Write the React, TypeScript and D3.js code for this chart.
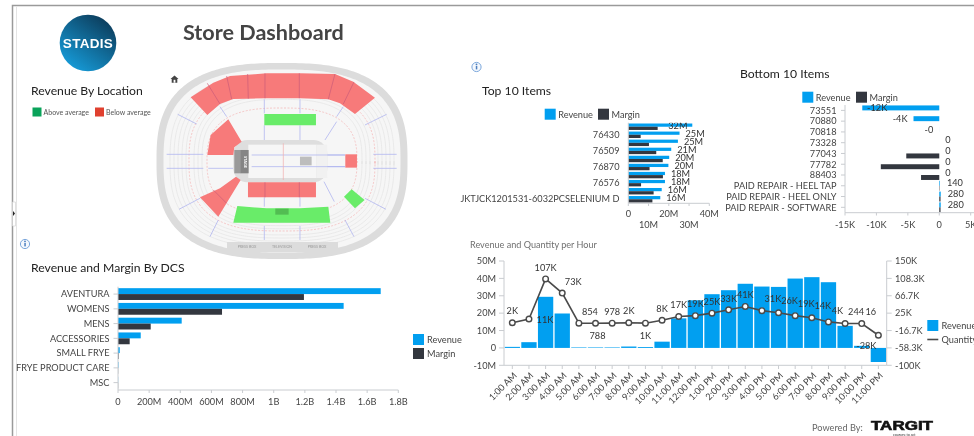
import React from "react";
import * as d3 from "d3";

const FONT = "Lato, 'Open Sans', sans-serif";
const BLUE = "#019FF0";
const DARK = "#33373F";
const AXIS = "#c9ccd0";
const TXT = "#444444";
const FS = 9.2;
const TITLE = 12.2;

// ---------- Revenue and Margin By DCS
const dcsCategories = ["AVENTURA", "WOMENS", "MENS", "ACCESSORIES", "SMALL FRYE", "FRYE PRODUCT CARE", "MSC"];
const dcsRevenue = [1687e6, 1449e6, 409e6, 146e6, 11e6, 3e6, 1e6];
const dcsMargin = [1194e6, 668e6, 210e6, 75e6, 4e6, 1e6, 1e6];
const dcsTicks = [0, 2e8, 4e8, 6e8, 8e8, 1e9, 1.2e9, 1.4e9, 1.6e9, 1.8e9];
const dcsTickLabels = ["0", "200M", "400M", "600M", "800M", "1B", "1.2B", "1.4B", "1.6B", "1.8B"];

// ---------- Top 10
const topCategories = ["76441", "76430", "76432", "76509", "76511", "76870", "76872", "76576", "76578", "JKTJCK1201531-6032PCSELENIUM D"];
const topShown = ["", "76430", "", "76509", "", "76870", "", "76576", "", "JKTJCK1201531-6032PCSELENIUM D"];
const topRevenue = [31.6, 25.3, 24.5, 21.2, 20.2, 19.8, 18.1, 18.1, 16.5, 15.8];
const topMargin = [14.5, 6.1, 10.2, 13.8, 17, 10.5, 17.1, 6.3, 12.5, 11.9];
const topLabels = ["32M", "25M", "25M", "21M", "20M", "20M", "18M", "18M", "16M", "16M"];
const topTicks = [0, 10, 20, 30, 40];
const topTickLabels = ["0", "10M", "20M", "30M", "40M"];

// ---------- Bottom 10
const bottomCategories = ["73551", "70880", "70818", "73328", "77043", "77782", "88403", "PAID REPAIR - HEEL TAP", "PAID REPAIR - HEEL ONLY", "PAID REPAIR - SOFTWARE"];
const bottomRevenue = [-12250, -4100, -5, 0, 0, 0, 0, 100, 230, 230];
const bottomMargin = [0, 0, 0, 0, -5250, -9300, -2900, 60, 200, 200];
const bottomLabels = ["-12K", "-4K", "-0", "0", "0", "0", "0", "140", "280", "280"];
const bottomNudge = [31, 0, 0, 0, 0, 0, 0, 0, 0, 0];
const bottomTicks = [-15000, -10000, -5000, 0, 5000];
const bottomTickLabels = ["-15K", "-10K", "-5K", "0", "5K"];

// ---------- Revenue and Quantity per Hour
const hours = ["1:00 AM", "2:00 AM", "3:00 AM", "4:00 AM", "5:00 AM", "6:00 AM", "7:00 AM", "8:00 AM", "9:00 AM", "10:00 AM", "11:00 AM", "12:00 PM", "1:00 PM", "2:00 PM", "3:00 PM", "4:00 PM", "5:00 PM", "6:00 PM", "7:00 PM", "8:00 PM", "9:00 PM", "10:00 PM", "11:00 PM"];
const hourRevenue = [0.6, 3.3, 29.4, 19.8, 0.3, 0.3, 0.3, 0.8, 0.5, 3.6, 17, 27.4, 30.9, 33.2, 36.9, 35.3, 35.1, 39.9, 40.7, 37.8, 12.7, 1.2, -8.1];
const hourQuantity = [2, 11, 107, 73, 0.854, 0.788, 0.978, 2, 1, 8, 17, 19, 25, 33, 41, 31, 26, 19, 14, 4, 0.244, 0.016, -28];
const hourLabels = ["2K", "11K", "107K", "73K", "854", "788", "978", "2K", "1K", "8K", "17K", "19K", "25K", "33K", "41K", "31K", "26K", "19K", "14K", "4K", "244", "16", "-28K"];
const hourLabelDx = [0, 16, 0, 11, 11, 2, 0, 0, 0, 0, 0, 0, 0, 0, 0, 11, 11, 11, 11, 9, 11, 9, -12];
const hourLabelDy = [-11.5, 0.7, -11.5, -11.5, -11.5, 12.5, -11.5, -11.5, 13, -11.5, -11.5, -11.5, -11.5, -11.5, -11.5, -11.5, -11.5, -11.5, -11.5, -11.5, -11.5, -11.5, 10.6];
const revTicks = [-10, 0, 10, 20, 30, 40, 50];
const revTickLabels = ["-10M", "0", "10M", "20M", "30M", "40M", "50M"];
const qtyTicks = [-100, -58.3, -16.7, 25, 66.7, 108.3, 150];
const qtyTickLabels = ["-100K", "-58.3K", "-16.7K", "25K", "66.7K", "108.3K", "150K"];

// ---------- Arena map: decorative shapes, in 3x page units
const mapRed = [
  "572,292 640,248 690,228 800,220 900,220 1005,222 1060,245 1125,293 1065,342 1020,310 985,298 900,295 800,295 700,297 660,312 622,345",
  "622,465 632,405 685,358 725,425 703,442 700,465",
  "600,592 660,565 708,530 722,540 655,650",
  "744,547 948,547 948,592 744,592",
  "1036,463 1071,463 1071,503 1036,503",
];
const mapGreen = [
  "793,342 948,342 948,376 793,376",
  "712,618 800,625 900,625 985,620 991,668 700,668",
  "1055,568 1094,600 1065,625 1032,590",
];
const mapDividers = [
  [622, 250, 660, 312], [680, 228, 695, 297], [743, 222, 745, 296], [795, 220, 795, 295], [898, 220, 898, 295], [1005, 222, 985, 298], [1062, 246, 1030, 312],
  [795, 547, 795, 592], [898, 547, 898, 592], [640, 570, 680, 610],
];
const mapAisles = [
  [500, 463, 610, 463], [500, 505, 610, 505], [625, 463, 700, 463], [625, 505, 700, 505], [1120, 463, 1190, 463], [1120, 505, 1190, 505],
  [755, 465, 1035, 465], [755, 500, 1035, 500], [533, 343, 590, 372], [1160, 343, 1095, 375], [537, 628, 600, 595], [1158, 628, 1095, 595],
  [793, 298, 793, 340], [900, 298, 900, 340], [793, 376, 793, 420], [900, 376, 900, 420], [793, 592, 793, 620], [900, 592, 900, 620],
  [793, 678, 793, 720], [900, 678, 900, 720], [630, 710, 655, 660], [1062, 710, 1035, 660], [972, 545, 1003, 605], [975, 420, 1010, 365],
  [850, 430, 850, 540], [660, 320, 680, 350], [1030, 320, 1010, 350],
];
const mapSeatRings = [112, 108, 104, 100, 96, 88, 84, 80];

function ring(cx: number, cy: number, rx: number, ry: number, n: number) {
  const a = d3.range(0, 2 * Math.PI + 0.02, 0.02);
  const p = 2 / n;
  return d3.line<number>()
    .x((t) => cx + rx * Math.sign(Math.cos(t)) * Math.pow(Math.abs(Math.cos(t)), p))
    .y((t) => cy + ry * Math.sign(Math.sin(t)) * Math.pow(Math.abs(Math.sin(t)), p))(a) + "Z";
}

function Arena() {
  return (
    <g>
      <path d={ring(282, 161, 125.5, 98, 2.7)} fill="#dcdcdc" />
      <path d={ring(282, 161, 118.5, 91.5, 2.7)} fill="#f6f6f6" />
      {mapSeatRings.map((r) => (
        <path key={r} d={ring(282, 161, r, r * 0.77, 2.7)} fill="none" stroke="#e6e6e6" strokeWidth={0.8} />
      ))}
      <path d={ring(282, 161, 93, 70, 2.7)} fill="none" stroke="#f4b3b3" strokeWidth={0.7} strokeDasharray="2 1.5" />
      <path d={ring(282, 161, 75, 53, 2.7)} fill="none" stroke="#f4b3b3" strokeWidth={0.7} strokeDasharray="2 1.5" />
      <rect x={227} y={242} width={111} height={10} fill="#dcdcdc" />
      {[["PRESS BOX", 247], ["TELEVISION", 282], ["PRESS BOX", 317]].map(([t, x]) => (
        <text key={String(x)} x={x as number} y={248} fontSize={3.6} fill="#999" textAnchor="middle">{t}</text>
      ))}
      <g transform="scale(0.3333)">
        {mapAisles.map((s, i) => (
          <line key={i} x1={s[0]} y1={s[1]} x2={s[2]} y2={s[3]} stroke="#aab0ee" strokeWidth={2.2} />
        ))}
        <rect x={700} y={420} width={282} height={127} rx={42} fill="#dedede" />
        <rect x={745} y={434} width={205} height={100} fill="#f6f6f6" />
        <rect x={950} y={434} width={32} height={100} fill="#f1f1f1" />
        {mapAisles.slice(6, 8).concat([mapAisles[24]]).map((s, i) => (
          <line key={i} x1={s[0]} y1={s[1]} x2={s[2]} y2={s[3]} stroke={i === 2 ? "#f0b0b0" : "#aab0ee"} strokeWidth={2.2} />
        ))}
        <rect x={703} y={450} width={20} height={70} fill="#9a9a9a" />
        <rect x={722} y={450} width={24} height={70} fill="#858585" />
        <rect x={900} y={470} width={35} height={26} fill="#bdbdbd" />
        {mapRed.map((p, i) => <polygon key={i} points={p} fill="#f77a7a" />)}
        {mapGreen.map((p, i) => <polygon key={i} points={p} fill="#69ec69" />)}
        <rect x={826} y={626} width={40} height={18} fill="#52bd52" />
        {mapDividers.map((s, i) => (
          <line key={i} x1={s[0]} y1={s[1]} x2={s[2]} y2={s[3]} stroke="#c95a78" strokeWidth={2} />
        ))}
      </g>
      <text transform="translate(243.5,162) rotate(90)" fontSize={4} fontWeight={700} fill="#fff" textAnchor="middle">STAGE</text>
    </g>
  );
}

function Legend({ x, y, gap, items }: { x: number; y: number; gap: number; items: [string, string][] }) {
  return (
    <g>
      {items.map(([t, c], i) => (
        <g key={t} transform={`translate(${x + i * gap},0)`}>
          <rect x={0} y={y} width={11} height={11} fill={c} />
          <text x={13.5} y={y + 9} fontSize={FS} fill={TXT}>{t}</text>
        </g>
      ))}
    </g>
  );
}

function Info({ x, y }: { x: number; y: number }) {
  return (
    <g>
      <circle cx={x} cy={y} r={4.6} fill="#f4f8fd" stroke="#7ba7dc" strokeWidth={1} />
      <rect x={x - 0.7} y={y - 1} width={1.5} height={3.4} fill="#4d7fbf" />
      <circle cx={x} cy={y - 2.6} r={0.9} fill="#4d7fbf" />
    </g>
  );
}

function Dcs() {
  const x = d3.scaleLinear().domain([0, 1.8e9]).range([118, 398.3]);
  const y = d3.scaleBand().domain(dcsCategories).range([286.7, 390]).paddingInner(0.2).paddingOuter(0.1);
  const sub = d3.scaleBand().domain(["r", "m"]).range([0, y.bandwidth()]);
  return (
    <g fontSize={FS} fill={TXT}>
      <text x={31} y={272} fontSize={TITLE} fill="#222">Revenue and Margin By DCS</text>
      {dcsCategories.map((c, i) => (
        <g key={c}>
          <rect x={x(0)} y={y(c)! + sub("r")!} width={x(dcsRevenue[i]) - x(0)} height={sub.bandwidth()} fill={BLUE} />
          <rect x={x(0)} y={y(c)! + sub("m")!} width={x(dcsMargin[i]) - x(0)} height={sub.bandwidth()} fill={DARK} />
          <line x1={113.5} x2={118} y1={y(c)! + y.bandwidth() / 2} y2={y(c)! + y.bandwidth() / 2} stroke={AXIS} />
          <text x={109.5} y={y(c)! + y.bandwidth() / 2 + 3.3} textAnchor="end">{c}</text>
        </g>
      ))}
      <line x1={118} x2={118} y1={286.7} y2={390} stroke={AXIS} />
      <line x1={118} x2={398.3} y1={390} y2={390} stroke={AXIS} />
      {dcsTicks.map((t, i) => (
        <g key={t}>
          <line x1={x(t)} x2={x(t)} y1={390} y2={393} stroke={AXIS} />
          <text x={x(t)} y={404.5} textAnchor="middle">{dcsTickLabels[i]}</text>
        </g>
      ))}
      <rect x={413} y={334} width={11} height={11} fill={BLUE} />
      <text x={427} y={343} fill={TXT}>Revenue</text>
      <rect x={413} y={348} width={11} height={11} fill={DARK} />
      <text x={427} y={357} fill={TXT}>Margin</text>
    </g>
  );
}

function Top10() {
  const x = d3.scaleLinear().domain([0, 40]).range([628.3, 709.3]);
  const y = d3.scaleBand().domain(topCategories).range([122.7, 203.3]).paddingInner(0.2).paddingOuter(0.1);
  const sub = d3.scaleBand().domain(["r", "m"]).range([0, y.bandwidth()]);
  return (
    <g fontSize={FS} fill={TXT}>
      <defs>
        <clipPath id="topClip"><rect x={500} y={122.7} width={300} height={100} /></clipPath>
      </defs>
      <text x={482} y={95} fontSize={TITLE} fill="#222">Top 10 Items</text>
      <Legend x={544.7} y={108.7} gap={53.3} items={[["Revenue", BLUE], ["Margin", DARK]]} />
      {topCategories.map((c, i) => (
        <g key={c}>
          <rect x={x(0)} y={y(c)! + sub("r")!} width={x(topRevenue[i]) - x(0)} height={sub.bandwidth()} fill={BLUE} />
          <rect x={x(0)} y={y(c)! + sub("m")!} width={x(topMargin[i]) - x(0)} height={sub.bandwidth()} fill={DARK} />
          {topShown[i] && (
            <text x={619.5} y={y(c)! + y.bandwidth() / 2 + 3} textAnchor="end">{topShown[i]}</text>
          )}
          <g clipPath="url(#topClip)">
            <text x={x(topRevenue[i]) + (i === 0 ? -24 : 6)} y={y(c)! + sub("r")! + 5} fill="#333">{topLabels[i]}</text>
          </g>
        </g>
      ))}
      <line x1={628.3} x2={628.3} y1={122.7} y2={203.3} stroke={AXIS} />
      <line x1={628.3} x2={709.3} y1={203.3} y2={203.3} stroke={AXIS} />
      {topTicks.map((t, i) => (
        <g key={t}>
          <line x1={x(t)} x2={x(t)} y1={203.3} y2={206} stroke={AXIS} />
          <text x={x(t)} y={i % 2 ? 228 : 217} textAnchor="middle">{topTickLabels[i]}</text>
        </g>
      ))}
    </g>
  );
}

function Bottom10() {
  const x = d3.scaleLinear().domain([-15000, 5000]).range([845, 970.7]);
  const y = d3.scaleBand().domain(bottomCategories).range([105, 212.7]).paddingInner(0.08).paddingOuter(0.04);
  const sub = d3.scaleBand().domain(["r", "m"]).range([0, y.bandwidth()]);
  const bar = (v: number, yy: number, c: string) => (
    <rect x={Math.min(x(v), x(0))} y={yy} width={Math.abs(x(v) - x(0))} height={sub.bandwidth()} fill={c} />
  );
  return (
    <g fontSize={FS} fill={TXT}>
      <text x={740} y={78} fontSize={TITLE} fill="#222">Bottom 10 Items</text>
      <Legend x={802.3} y={91.7} gap={53.7} items={[["Revenue", BLUE], ["Margin", DARK]]} />
      {bottomCategories.map((c, i) => {
        const rv = bottomRevenue[i];
        const neg = rv < 0;
        const ly = y(c)! + sub("r")! + 5.6;
        const cy = y(c)! + y.bandwidth() / 2;
        return (
          <g key={c}>
            {bar(rv, y(c)! + sub("r")!, BLUE)}
            {bar(bottomMargin[i], y(c)! + sub("m")!, DARK)}
            <line x1={841} x2={845} y1={cy} y2={cy} stroke={AXIS} />
            <text x={836.5} y={cy + 3.3} textAnchor="end">{c}</text>
            <text x={x(rv) + (neg ? -6 : rv > 0 ? 7 : 6) + bottomNudge[i]} y={ly} textAnchor={neg ? "end" : "start"} fill="#333">{bottomLabels[i]}</text>
          </g>
        );
      })}
      <line x1={845} x2={845} y1={105} y2={212.7} stroke={AXIS} />
      <line x1={845} x2={974} y1={212.7} y2={212.7} stroke={AXIS} />
      {bottomTicks.map((t, i) => (
        <g key={t}>
          <line x1={x(t)} x2={x(t)} y1={212.7} y2={215.5} stroke={AXIS} />
          <text x={x(t)} y={228} textAnchor="middle">{bottomTickLabels[i]}</text>
        </g>
      ))}
    </g>
  );
}

function Hours() {
  const x = d3.scaleBand().domain(hours).range([504, 886.7]).paddingInner(0.08).paddingOuter(0.04);
  const yL = d3.scaleLinear().domain([-10, 50]).range([365.3, 261]);
  const yR = d3.scaleLinear().domain([-100, 150]).range([365.3, 261]);
  const cx = (h: string) => x(h)! + x.bandwidth() / 2;
  const line = d3.line<number>().x((_, i) => cx(hours[i])).y((v) => yR(v));
  return (
    <g fontSize={FS} fill={TXT}>
      <text x={470} y={248} fontSize={9.1} fill="#707070">Revenue and Quantity per Hour</text>
      {hours.map((h, i) => (
        <rect key={h} x={x(h)} y={Math.min(yL(hourRevenue[i]), yL(0))} width={x.bandwidth()} height={Math.abs(yL(hourRevenue[i]) - yL(0))} fill={BLUE} />
      ))}
      <line x1={504} x2={504} y1={261} y2={365.3} stroke={AXIS} />
      <line x1={886.7} x2={886.7} y1={261} y2={365.3} stroke={AXIS} />
      <line x1={504} x2={886.7} y1={365.3} y2={365.3} stroke={AXIS} />
      {revTicks.map((t, i) => (
        <g key={t}>
          <line x1={499} x2={504} y1={yL(t)} y2={yL(t)} stroke={AXIS} />
          <text x={496} y={yL(t) + 3.3} textAnchor="end">{revTickLabels[i]}</text>
        </g>
      ))}
      {qtyTicks.map((t, i) => (
        <g key={t}>
          <line x1={886.7} x2={891.7} y1={yR(t)} y2={yR(t)} stroke={AXIS} />
          <text x={895} y={yR(t) + 3.3}>{qtyTickLabels[i]}</text>
        </g>
      ))}
      {hours.map((h) => (
        <g key={h}>
          <line x1={cx(h)} x2={cx(h)} y1={365.3} y2={369} stroke={AXIS} />
          <text transform={`translate(${cx(h) + 3},${374}) rotate(-45)`} textAnchor="end" y={3}>{h}</text>
        </g>
      ))}
      <path d={line(hourQuantity)!} fill="none" stroke="#4a4a4a" strokeWidth={1.6} />
      {hours.map((h, i) => (
        <circle key={h} cx={cx(h)} cy={yR(hourQuantity[i])} r={2.8} fill="#fff" stroke="#4a4a4a" strokeWidth={1.4} />
      ))}
      {hours.map((h, i) => (
        <text key={h} x={cx(h) + hourLabelDx[i]} y={yR(hourQuantity[i]) + hourLabelDy[i] + 3.2} textAnchor="middle" fill="#333">{hourLabels[i]}</text>
      ))}
      <rect x={927.3} y={320} width={11} height={11} fill={BLUE} />
      <text x={941.5} y={329}>Revenue</text>
      <line x1={927.3} x2={938.3} y1={339.5} y2={339.5} stroke="#4a4a4a" strokeWidth={1.6} />
      <text x={941.5} y={343}>Quantity</text>
    </g>
  );
}

export default function App() {
  return (
    <svg width={974} height={436} viewBox="0 0 974 436"
      style={{ position: "absolute", left: 0, top: 0, fontFamily: FONT, filter: "blur(0.35px)", background: "#fff" }}>
      <defs>
        <linearGradient id="logo" x1="0.85" y1="0.05" x2="0.2" y2="0.95">
          <stop offset="0" stopColor="#0c3a58" />
          <stop offset="1" stopColor="#169bd8" />
        </linearGradient>
      </defs>
      <path d="M12.5 436V5.5H974" fill="none" stroke="#9a9a9a" strokeWidth={1.5} />
      <line x1={16.5} x2={16.5} y1={6} y2={436} stroke="#e4e4e4" />
      <path d="M12.5 202h3v24h-3" fill="#fff" stroke="#d4d4d4" strokeWidth={0.7} />
      <path d="M13 211l2 2.5-2 2.5z" fill="#222" />

      <circle cx={88} cy={43} r={28.3} fill="url(#logo)" />
      <text x={88} y={48} textAnchor="middle" fontFamily="'Liberation Sans', sans-serif" fontSize={13.5} fontWeight={700} fill="#fff" letterSpacing={0.3}>STADIS</text>
      <text x={183} y={39.5} fontSize={21.6} fontWeight={700} fill="#444">Store Dashboard</text>

      <text x={31} y={95} fontSize={TITLE} fill="#222">Revenue By Location</text>
      <rect x={32.5} y={107.5} width={9} height={9} fill="#0aa35a" />
      <text x={43.5} y={115} fontSize={7} fill="#555">Above average</text>
      <rect x={95} y={107.5} width={9} height={9} fill="#e0402f" />
      <text x={106} y={115} fontSize={7} fill="#555">Below average</text>
      <path d="M174.5 75.5l4 3.6h-1.2v3.6h-5.6v-3.6h-1.2z" fill="#444" />
      <rect x={173.6} y={79.8} width={1.8} height={2.9} fill="#fff" />

      <Arena />
      <Info x={25} y={244} />
      <Info x={476.5} y={67} />
      <Dcs />
      <Top10 />
      <Bottom10 />
      <Hours />

      <text x={812} y={431} fontSize={9.2} fill="#666">Powered By:</text>
      <text x={871} y={430} fontSize={12.5} fontWeight={900} fontFamily="'Liberation Sans', sans-serif" fill="#111" stroke="#111" strokeWidth={0.6} textLength={62} lengthAdjust="spacingAndGlyphs">TARGIT</text>
      <text x={893} y={435.5} fontSize={3.6} fill="#333">courage to act</text>
    </svg>
  );
}
